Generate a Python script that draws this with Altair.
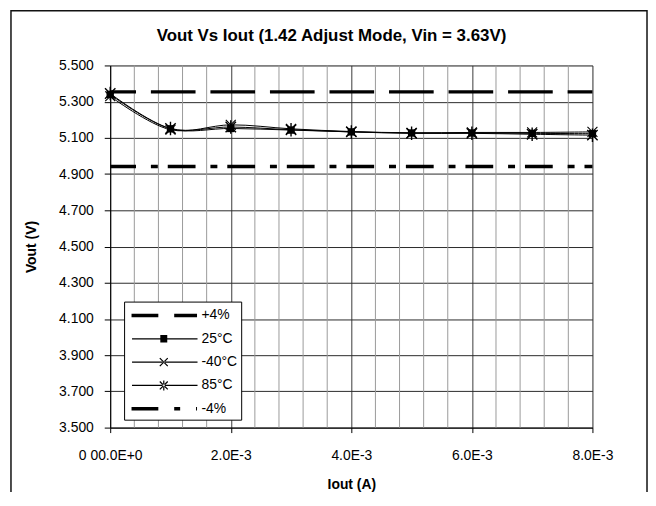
import json
import altair as alt
import pandas as pd

# ---------------- data ----------------
iout = [0.000, 0.001, 0.002, 0.003, 0.004, 0.005, 0.006, 0.007, 0.008]
vout_25c = [5.340, 5.150, 5.152, 5.143, 5.133, 5.127, 5.127, 5.125, 5.123]
vout_m40c = [5.330, 5.145, 5.172, 5.150, 5.135, 5.128, 5.130, 5.130, 5.133]
vout_85c = [5.345, 5.152, 5.160, 5.145, 5.133, 5.125, 5.125, 5.120, 5.115]
limit_plus4 = [5.354] * len(iout)
limit_minus4 = [4.942] * len(iout)

series_names = ["+4%", "25°C", "-40°C", "85°C", "-4%"]

y_ticks = [3.5, 3.7, 3.9, 4.1, 4.3, 4.5, 4.7, 4.9, 5.1, 5.3, 5.5]
x_ticks = [0.000, 0.002, 0.004, 0.006, 0.008]
x_tick_labels = ["0 00.0E+0", "2.0E-3", "4.0E-3", "6.0E-3", "8.0E-3"]
x_minor_grid = [0.0004, 0.0008, 0.0012, 0.0016, 0.0024, 0.0028, 0.0032, 0.0036,
                0.0044, 0.0048, 0.0052, 0.0056, 0.0064, 0.0068, 0.0072, 0.0076]

title_text = "Vout Vs Iout (1.42 Adjust Mode, Vin = 3.63V)"
x_title = "Iout (A)"
y_title = "Vout (V)"

# ---------------- tables ----------------
rows = []
for name, vals in zip(series_names, [limit_plus4, vout_25c, vout_m40c, vout_85c, limit_minus4]):
    for xv, yv in zip(iout, vals):
        rows.append({"iout": xv, "vout": yv, "series": name})
df = pd.DataFrame(rows)
grid_df = pd.DataFrame({"iout": x_minor_grid})
legend_df = pd.DataFrame({"series": series_names})

FONT = "Liberation Sans"

x_scale = alt.Scale(domain=[0, 0.008], nice=False, zero=False)
y_scale = alt.Scale(domain=[3.5, 5.5], nice=False, zero=False)

label_expr = f"{json.dumps(x_tick_labels)}[round(datum.index*{len(x_tick_labels) - 1})]"

x_axis = alt.Axis(
    values=x_ticks, labelExpr=label_expr, grid=True, gridColor="#3a3a3a", gridWidth=1,
    tickSize=5, tickColor="black", domainColor="black", labelFlush=False, labelOverlap=False,
    labelFont=FONT, labelFontSize=14, labelColor="black", labelPadding=16,
    title=x_title, titleFont=FONT, titleFontSize=14, titleFontWeight="bold", titleColor="black",
    titleX=243, titleY=57, titleAlign="center", titleBaseline="middle",
)
y_axis = alt.Axis(
    values=y_ticks, format=".3f", grid=True, gridColor="#2a2a2a", gridWidth=1,
    tickSize=6, tickColor="black", domainColor="black", labelOverlap=False,
    labelFont=FONT, labelFontSize=14, labelColor="black", labelPadding=11,
    title=y_title, titleFont=FONT, titleFontSize=14, titleFontWeight="bold", titleColor="black",
    titleAngle=270, titleX=-79, titleY=182.5, titleAlign="center", titleBaseline="middle",
)

X = alt.X("iout:Q", scale=x_scale, axis=x_axis)
Y = alt.Y("vout:Q", scale=y_scale, axis=y_axis)

minor_grid = alt.Chart(grid_df).mark_rule(color="#9a9a9a", strokeWidth=1).encode(x=X)

base = alt.Chart(df)

plus4 = base.transform_filter(alt.datum.series == "+4%").mark_line(
    color="black", strokeWidth=3.5, strokeDash=[45, 15], strokeDashOffset=19
).encode(x=X, y=Y)

minus4 = base.transform_filter(alt.datum.series == "-4%").mark_line(
    color="black", strokeWidth=3.5, strokeDash=[28, 15, 7, 10], strokeDashOffset=2
).encode(x=X, y=Y)

temps = base.transform_filter(
    alt.FieldOneOfPredicate(field="series", oneOf=["25°C", "-40°C", "85°C"])
).mark_line(color="black", strokeWidth=1, interpolate="catmull-rom").encode(
    x=X, y=Y, detail="series:N"
)

pts_25 = base.transform_filter(alt.datum.series == "25°C").mark_point(
    shape="square", filled=True, color="black", size=55, opacity=1
).encode(x=X, y=Y)

pts_m40 = base.transform_filter(alt.datum.series == "-40°C").mark_point(
    shape="M-1,-1L1,1M-1,1L1,-1", filled=False, color="black", size=100, strokeWidth=1.1, opacity=1
).encode(x=X, y=Y)

pts_85 = base.transform_filter(alt.datum.series == "85°C").mark_point(
    shape="M-1,-1L1,1M-1,1L1,-1M0,-1.3V1.3", filled=False, color="black", size=110,
    strokeWidth=1.4, opacity=1
).encode(x=X, y=Y)

# legend symbols drawn as filled outlines: line + marker (unit = 10 px with symbolSize 400)
LINE = "M-0.6,-0.065H6.0V0.065H-0.6Z"
XMARK = ("M2.155,-0.355L2.955,0.445L3.045,0.355L2.245,-0.445Z "
         "M2.245,0.445L3.045,-0.355L2.955,-0.445L2.155,0.355Z")
legend_paths = [
    "M-0.65,-0.18H2.05V0.18H-0.65Z M3.65,-0.18H5.95V0.18H3.65Z",
    LINE + " M2.25,-0.38H2.95V0.38H2.25Z",
    LINE + " " + XMARK,
    LINE + " " + XMARK + " M2.54,-0.5H2.66V0.5H2.54Z",
    "M-0.65,-0.18H2.05V0.18H-0.65Z M3.65,-0.18H4.25V0.18H3.65Z M5.85,-0.18H5.95V0.18H5.85Z",
]

legend_layer = alt.Chart(legend_df).transform_filter("false").mark_point(
    filled=True, fill="black", strokeWidth=0
).encode(
    shape=alt.Shape(
        "series:N",
        scale=alt.Scale(domain=series_names, range=legend_paths),
        legend=alt.Legend(
            orient="none", legendX=14, legendY=238, title=None,
            fillColor="white", strokeColor="black", padding=4, cornerRadius=0,
            symbolSize=400, symbolStrokeWidth=0, symbolOpacity=1,
            symbolFillColor="black",
            labelOffset=54, labelFont=FONT, labelFontSize=14, labelColor="black",
            rowPadding=6.5,
        ),
    )
)

frame = alt.Chart(pd.DataFrame({"k": [0]})).mark_rect(
    fill="transparent", stroke="#111111", strokeWidth=1.5
).encode(
    x=alt.value(-100), x2=alt.value(541), y=alt.value(-55), y2=alt.value(450)
)

chart = alt.layer(
    minor_grid, plus4, minus4, temps, pts_25, pts_m40, pts_85, legend_layer, frame
).properties(
    width=486,
    height=365,
    autosize=alt.AutoSizeParams(type="none"),
    padding={"left": 103, "top": 56, "right": 56, "bottom": 63},
    title=alt.TitleParams(
        title_text, font=FONT, fontSize=17, fontWeight="bold", color="black",
        anchor="middle", frame="group", baseline="alphabetic", offset=0, dx=-20, dy=48,
    ),
).configure_view(stroke="transparent").configure(background="white")

chart.save("out.html", embed_options={"renderer": "svg", "actions": False})
